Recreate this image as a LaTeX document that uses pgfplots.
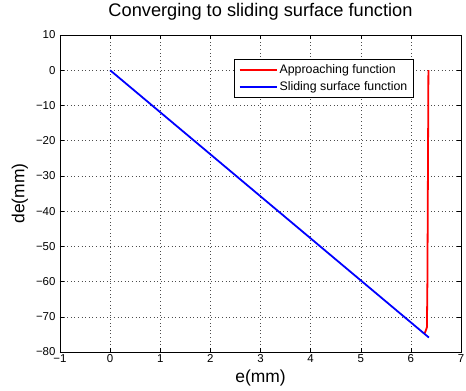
\documentclass[border=0pt]{standalone}
\usepackage{pgfplots}
\pgfplotsset{compat=1.18}
\usepackage{fontspec}
\setmainfont{Liberation Sans}
\begin{document}
\begin{tikzpicture}
\path[use as bounding box] (-60bp,-39bp) rectangle (406bp,352bp);
\begin{axis}[
  at={(0,0)}, anchor=south west,
  scale only axis,
  width=401bp, height=317bp,
  xmin=-1, xmax=7, ymin=-80, ymax=10,
  xtick={-1,0,...,7}, ytick={-80,-70,...,10},
  xticklabels={−1,0,1,2,3,4,5,6,7},
  yticklabels={−80,−70,−60,−50,−40,−30,−20,−10,0,10},
  tick align=inside,
  grid=major,
  grid style={black!70, line width=0.4pt, dash pattern=on 0.6bp off 3bp},
  axis line style={line width=0.8pt},
  tick style={black, line width=0.5pt},
  major tick length=4bp,
  ticklabel style={font=\fontsize{11.5}{13}\selectfont},
  xticklabel style={yshift=1bp},
  yticklabel style={xshift=-1bp},
  xlabel={e(mm)}, ylabel={de(mm)},
  label style={font=\fontsize{17.5}{20}\selectfont},
  xlabel style={at={(axis description cs:0.5,-0.082)}, anchor=center},
  ylabel style={at={(axis description cs:-0.1,0.5)}, anchor=center},
  title={Converging to sliding surface function},
  title style={at={(axis description cs:0.5,1.055)}, anchor=center, font=\fontsize{18.3}{21}\selectfont},
  legend style={at={(0.882,0.924)}, anchor=north east, font=\fontsize{12.4}{14}\selectfont, draw=black, line width=0.7pt, inner xsep=4bp, inner ysep=3bp, row sep=3bp},
  legend cell align=left,
  legend image code/.code={\draw[mark repeat=2,mark phase=2,#1] plot coordinates {(0bp,0bp) (18bp,0bp) (37bp,0bp)};},
]
\addplot[red, line width=1.8pt] coordinates {(6.35,0) (6.34,-30) (6.33,-60) (6.32,-73) (6.29,-74.2) (6.27,-74.8)};
\addlegendentry{Approaching function}
\addplot[blue, line width=1.8pt] coordinates {(0,0) (6.36,-75.9)};
\addlegendentry{Sliding surface function}
\end{axis}
\end{tikzpicture}
\end{document}
